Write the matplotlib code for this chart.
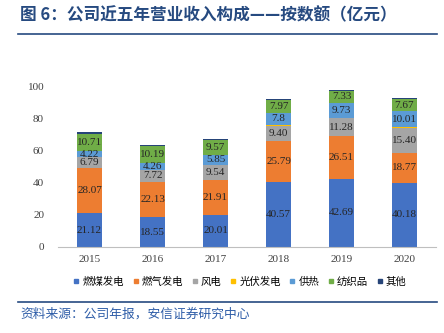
import numpy as np
import matplotlib
matplotlib.use("Agg")
from matplotlib import pyplot as plt
from matplotlib.lines import Line2D

# datos (亿元)
years = ["2015", "2016", "2017", "2018", "2019", "2020"]
series_names = ["燃煤发电", "燃气发电", "风电", "光伏发电", "供热", "纺织品", "其他"]
coal = [21.12, 18.55, 20.01, 40.57, 42.69, 40.18]
gas = [28.07, 22.13, 21.91, 25.79, 26.51, 18.77]
wind = [6.79, 7.72, 9.54, 9.40, 11.28, 15.40]
solar = [0.0, 0.0, 0.0, 0.35, 0.0, 0.45]
heat = [4.22, 4.26, 5.85, 7.8, 9.73, 10.01]
textile = [10.71, 10.19, 9.57, 7.97, 7.33, 7.67]
other = [0.7, 0.6, 0.6, 0.6, 0.6, 0.5]
labels_coal = ["21.12", "18.55", "20.01", "40.57", "42.69", "40.18"]
labels_gas = ["28.07", "22.13", "21.91", "25.79", "26.51", "18.77"]
labels_wind = ["6.79", "7.72", "9.54", "9.40", "11.28", "15.40"]
labels_heat = ["4.22", "4.26", "5.85", "7.8", "9.73", "10.01"]
labels_textile = ["10.71", "10.19", "9.57", "7.97", "7.33", "7.67"]

colores = ["#4472C4", "#ED7D31", "#A5A5A5", "#FFC000", "#5B9BD5", "#70AD47", "#264478"]
series = [coal, gas, wind, solar, heat, textile, other]
etiquetas = [labels_coal, labels_gas, labels_wind, None, labels_heat, labels_textile, None]

cjk = ["Noto Sans CJK SC", "DejaVu Sans"]
serif = "Liberation Serif"

fig = plt.figure(figsize=(4.44, 3.33), dpi=100)
ax = fig.add_axes([58 / 444, 1 - 247 / 333, 378 / 444, 160 / 333])

x = np.arange(len(years))
base = np.zeros(len(years))
for nombre, valores, color, labs in zip(series_names, series, colores, etiquetas):
    valores = np.array(valores)
    ax.bar(x, valores, width=0.4, bottom=base, color=color, label=nombre)
    if labs is not None:
        for i in range(len(years)):
            ax.text(x[i], base[i] + valores[i] / 2, labs[i], ha="center", va="center",
                    fontsize=8, family=serif, color="#262626")
    base = base + valores

ax.set_xlim(-0.5, 5.5)
ax.set_ylim(0, 100)
ax.set_yticks([0, 20, 40, 60, 80, 100])
ax.set_xticks(x)
ax.set_xticklabels(years)
for t in ax.get_xticklabels() + ax.get_yticklabels():
    t.set_family(serif)
    t.set_fontsize(8)
    t.set_color("#404040")
ax.tick_params(axis="both", length=0)
ax.tick_params(axis="y", pad=10)
ax.tick_params(axis="x", pad=6)
for s in ["top", "right", "left"]:
    ax.spines[s].set_visible(False)
ax.spines["bottom"].set_color("#BFBFBF")

handles = [Line2D([], [], marker="s", linestyle="", color=c, markersize=3.5) for c in colores]
fig.legend(handles, series_names, loc="center", bbox_to_anchor=(240 / 444, 1 - 282 / 333),
           ncol=7, frameon=False, prop={"family": cjk, "size": 7.5},
           handlelength=0.6, handletextpad=0.3, columnspacing=0.8)

# título y fuente
fig.text(20 / 444, 1 - 15 / 333, "图 6：公司近五年营业收入构成——按数额（亿元）", family=cjk,
         fontsize=12, fontweight="bold", color="#264A80", va="center", ha="left")
fig.add_artist(Line2D([18 / 444, 437 / 444], [1 - 34 / 333] * 2, color="#264A80", lw=1.2))
fig.add_artist(Line2D([18 / 444, 437 / 444], [1 - 302 / 333] * 2, color="#264A80", lw=1.2))
fig.text(20 / 444, 1 - 314 / 333, "资料来源：公司年报，安信证券研究中心", family=cjk,
         fontsize=9.2, style="italic", color="#2E5DA8", va="center", ha="left")

fig.savefig("out.png", dpi=100)
